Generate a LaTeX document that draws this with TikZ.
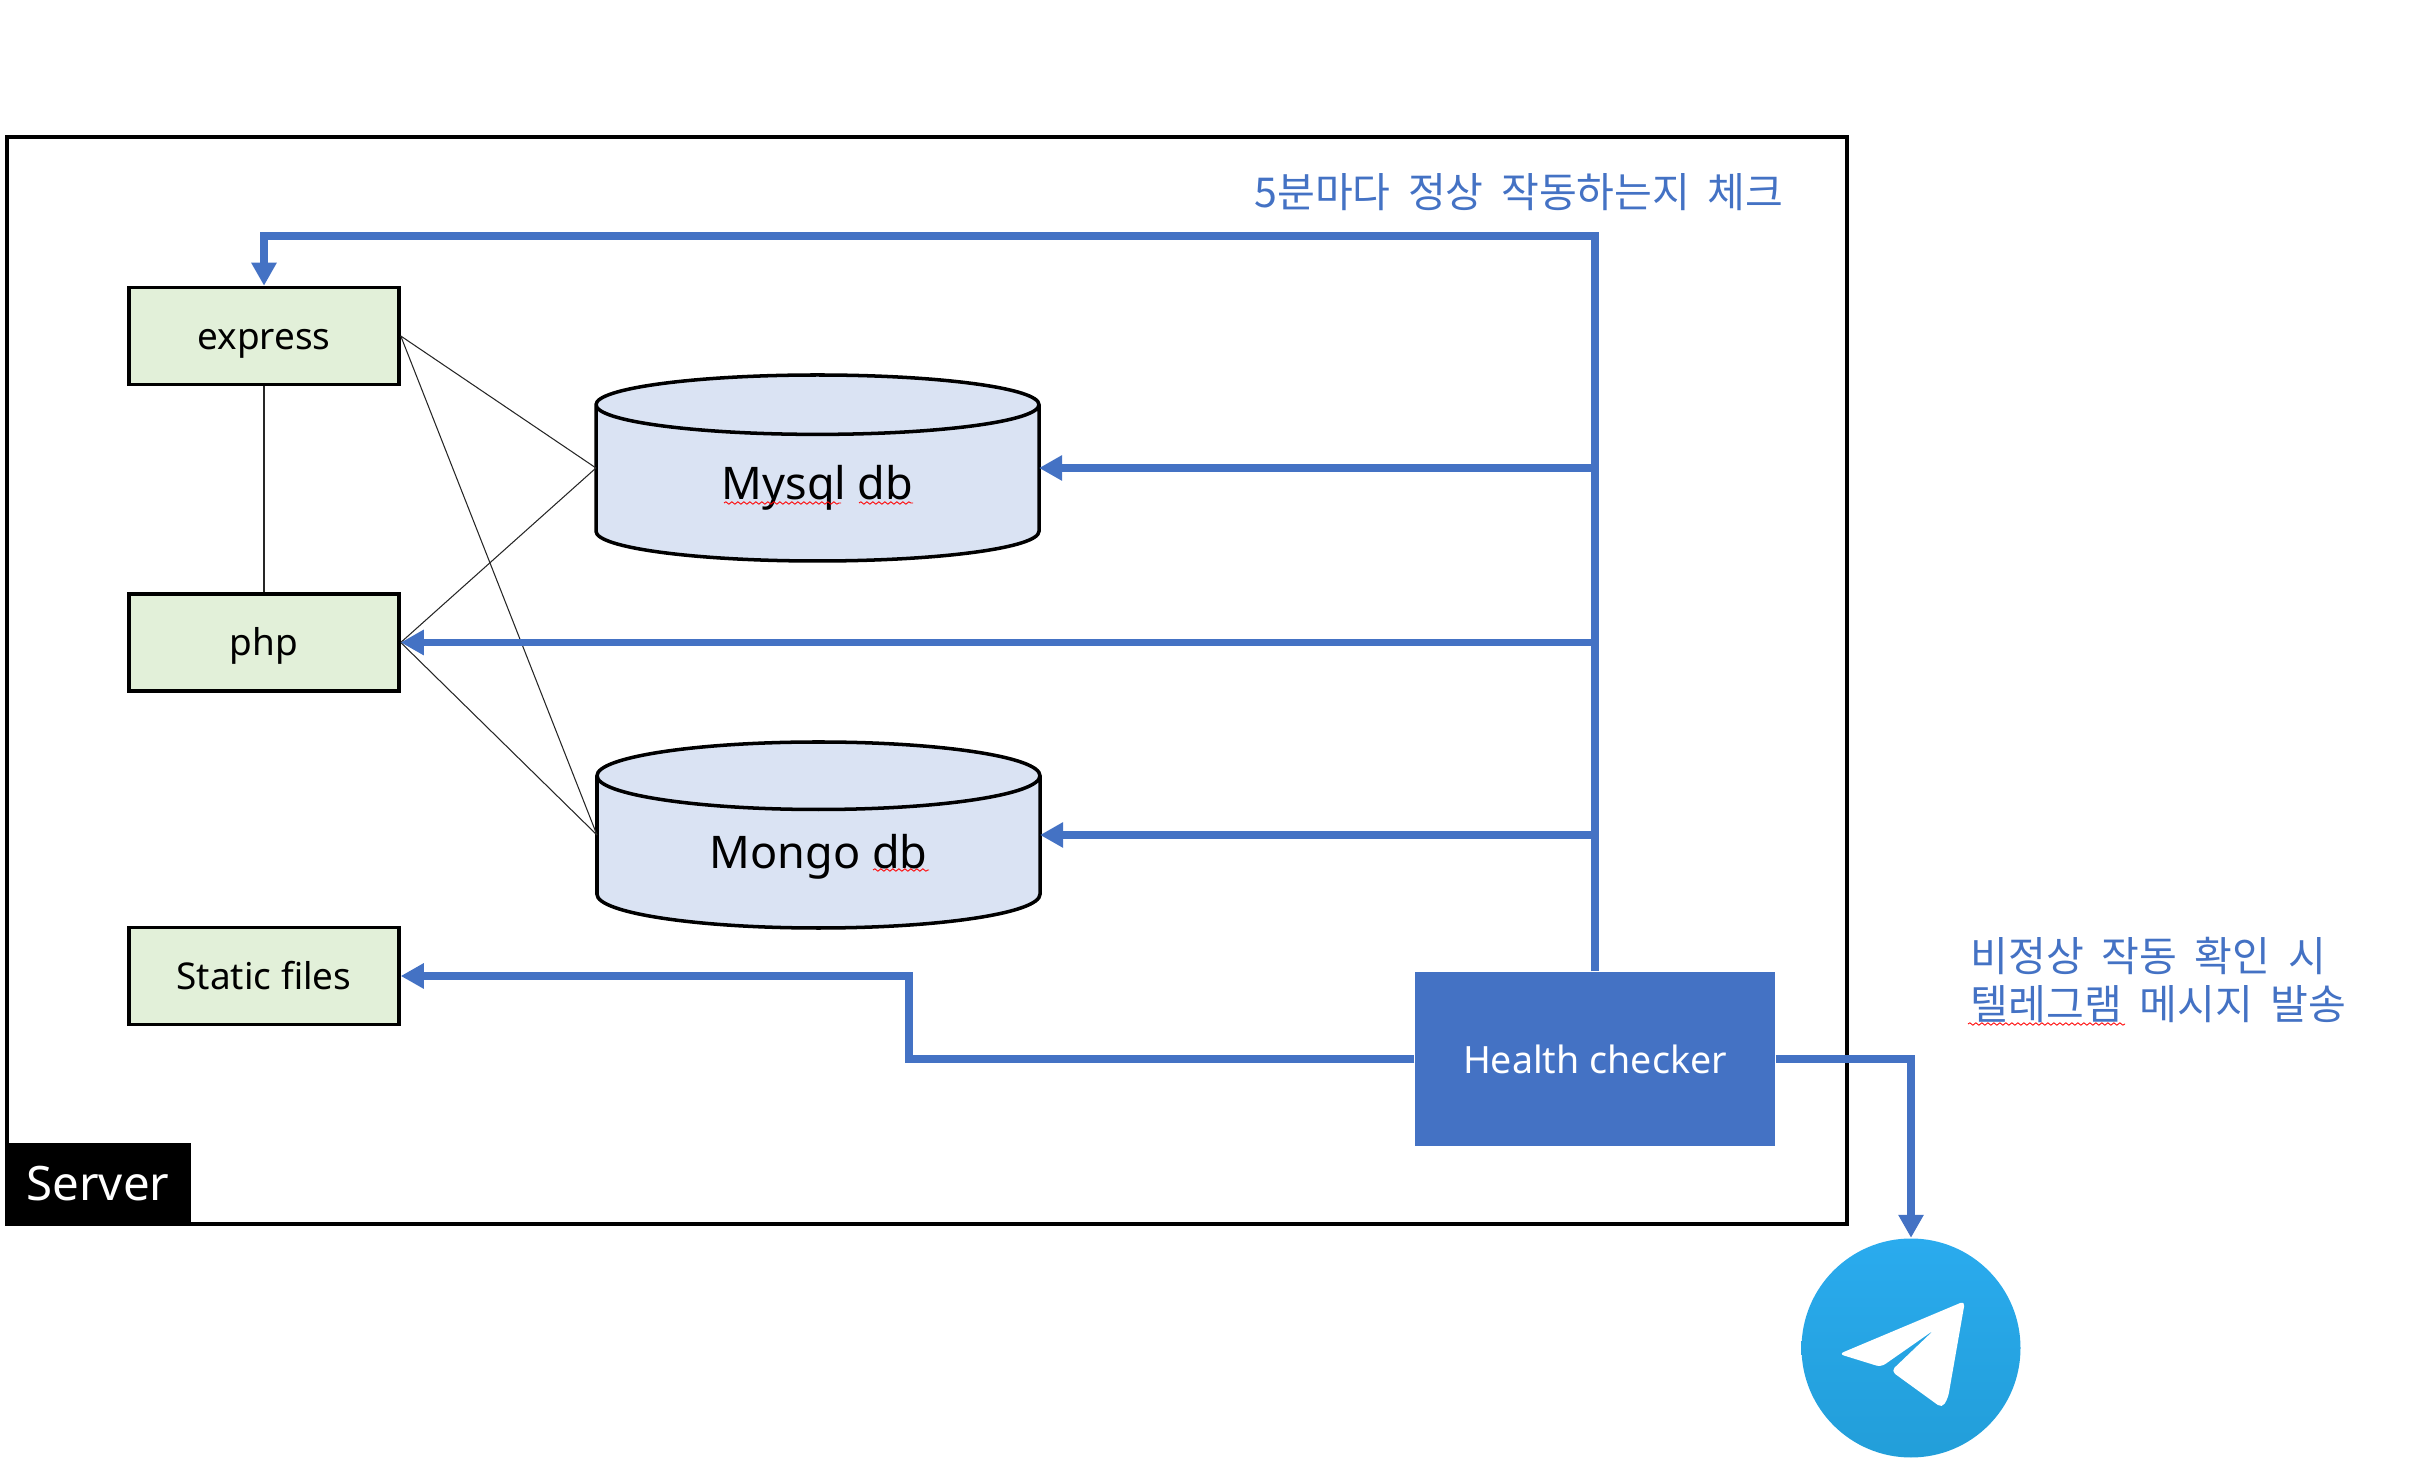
\documentclass[tikz,border=0pt]{standalone}
\usepackage{fontspec}
\setmainfont{Noto Sans}
\newfontfamily\krfont[WordSpace=1.9]{Noto Sans CJK KR}
\definecolor{hcblue}{HTML}{4472C4}
\definecolor{appgreen}{HTML}{E2F0D9}
\definecolor{dbblue}{HTML}{DAE3F3}
\definecolor{tgtop}{HTML}{2AABEE}
\definecolor{tgbot}{HTML}{229ED9}
\usetikzlibrary{shapes.geometric, arrows.meta, positioning, decorations.pathmorphing}
\tikzset{
  appbox/.style={draw=black, fill=appgreen, line width=1pt, minimum width=2.70cm, minimum height=0.97cm, inner sep=0pt, text height=0.34cm, text depth=0.07cm, font=\fontsize{10.5}{12}\selectfont},
  dbcan/.style={draw=black, cylinder, shape border rotate=90, aspect=0.31, anchor=shape center, cylinder uses custom fill, cylinder body fill=dbblue, cylinder end fill=dbblue, line width=1pt, outer sep=0pt, minimum width=4.43cm, minimum height=1.86cm, inner sep=0pt, text height=0.40cm, text depth=0.08cm, font=\fontsize{12.8}{14}\selectfont},
  thinlink/.style={draw=black!85, line width=0.3pt},
  checkflow/.style={draw=hcblue, line width=0.075cm, -{Triangle[length=0.23cm, width=0.24cm]}},
  squiggle/.style={draw=red, line width=0.25pt, decorate, decoration={snake, amplitude=0.012cm, segment length=0.06cm}},
  bluenote/.style={text=hcblue, inner sep=0pt, font=\krfont\fontsize{11.7}{14}\selectfont}
}

\begin{document}
\begin{tikzpicture}
  \useasboundingbox (0, 0) rectangle (24.36, 14.66);

  % Server frame
  \node[draw=black, line width=1pt, minimum width=18.40cm, minimum height=10.87cm, inner sep=0pt] (server) at (9.27, 7.855) {};
  \node[fill=black, text=white, minimum width=1.86cm, minimum height=0.82cm, inner sep=0pt, font=\fontsize{13.5}{15}\selectfont] (serverlabel) at (0.98, 2.82) {Server};

  % Apps
  \node[appbox] (express) at (2.64, 11.30) {express};
  \node[appbox] (php) at (2.64, 8.235) {php};
  \node[appbox] (static) at (2.64, 4.90) {Static files};

  % Databases
  \node[dbcan] (mysql) at (8.175, 9.98) {Mysql db};
  \node[dbcan] (mongo) at (8.185, 6.31) {Mongo db};
  \coordinate (mysqlleft) at (mysql.west |- mysql.shape center);
  \coordinate (mysqlright) at (mysql.east |- mysql.shape center);
  \coordinate (mongoleft) at (mongo.west |- mongo.shape center);
  \coordinate (mongoright) at (mongo.east |- mongo.shape center);

  % Thin links
  \draw[thinlink] (express.south) -- (php.north);
  \draw[thinlink] (express.east) -- (mysqlleft);
  \draw[thinlink] (express.east) -- (mongoleft);
  \draw[thinlink] (php.east) -- (mysqlleft);
  \draw[thinlink] (php.east) -- (mongoleft);

  % Health checker
  \node[fill=hcblue, text=white, minimum width=3.60cm, minimum height=1.74cm, inner sep=0pt, font=\fontsize{10.7}{13}\selectfont] (health) at (15.95, 4.07) {Health checker};

  % Telegram
  \node[circle, top color=tgtop, bottom color=tgbot, minimum size=2.19cm, inner sep=0pt] (tele) at (19.11, 1.18) {};
  \fill[white, rounded corners=0.05cm, shift={(tele.center)}] (0.54, 0.47) -- (-0.72, -0.06) -- (-0.30, -0.19) -- (0.23, 0.18) -- (-0.20, -0.23) -- (0.31, -0.60) -- (0.37, -0.50) -- cycle;

  % Check arrows
  \coordinate (trunktop) at (15.95, 12.30);
  \coordinate (staticbend) at (9.09, 4.90);
  \draw[checkflow] (health.north) -- (trunktop) -| (express.north);
  \draw[checkflow] (health.north |- mysqlright) -- (mysqlright);
  \draw[checkflow] (health.north |- php.east) -- (php.east);
  \draw[checkflow] (health.north |- mongoright) -- (mongoright);
  \draw[checkflow] (health.west) -| (staticbend) -- (static.east);
  \draw[checkflow] (health.east) -| (tele.north);

  % Notes
  \node[bluenote] (checknote) at (15.19, 12.735) {5분마다 정상 작동하는지 체크};
  \node[bluenote, anchor=west, align=left] (alertnote) at (19.70, 4.86) {비정상 작동 확인 시\\[-0.01cm]텔레그램 메시지 발송};

  % Spelling marks
  \draw[squiggle] (7.24, 9.63) -- (8.41, 9.63);
  \draw[squiggle] (8.59, 9.63) -- (9.13, 9.63);
  \draw[squiggle] (8.73, 5.96) -- (9.29, 5.96);
  \draw[squiggle] (19.68, 4.42) -- (21.25, 4.42);
\end{tikzpicture}
\end{document}
